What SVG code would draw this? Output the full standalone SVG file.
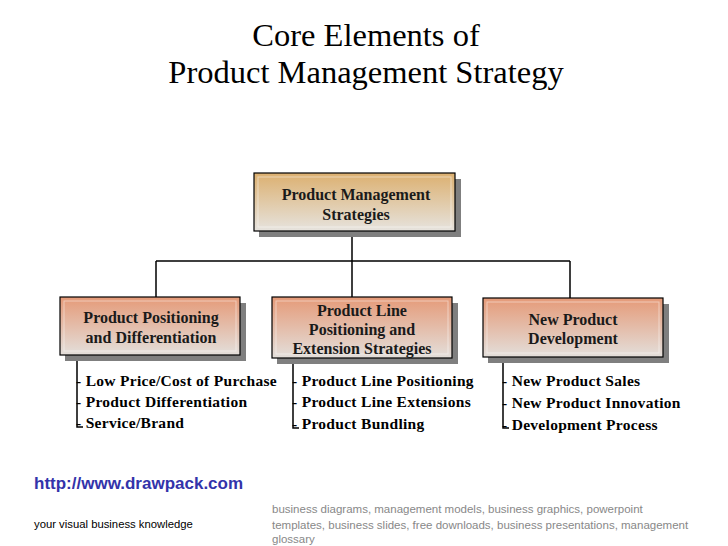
<svg xmlns="http://www.w3.org/2000/svg" width="728" height="546" viewBox="0 0 728 546">
<defs>
<linearGradient id="gTan" x1="0" y1="0" x2="0" y2="1">
<stop offset="0" stop-color="#dcb070"/>
<stop offset="1" stop-color="#e6e3de"/>
</linearGradient>
<linearGradient id="gPeach" x1="0" y1="0" x2="0" y2="1">
<stop offset="0" stop-color="#e59a78"/>
<stop offset="1" stop-color="#e3dfdb"/>
</linearGradient>
</defs>
<style>
.title{font-family:"Liberation Serif",serif;font-size:32.5px;fill:#000;text-anchor:middle}
.box{stroke:#000;stroke-width:1.2}
.inner{fill:none;stroke:#ffffff;stroke-opacity:0.45;stroke-width:1}
.shadow{fill:#7f7f7f}
.lbl{font-family:"Liberation Serif",serif;font-weight:bold;font-size:16px;fill:#1a1a1a;text-anchor:middle}
.item{font-family:"Liberation Serif",serif;font-weight:bold;font-size:15.5px;letter-spacing:0.3px;fill:#000}
.line{fill:none;stroke:#000;stroke-width:1.5}
.url{font-family:"Liberation Sans",sans-serif;font-weight:bold;font-size:17px;fill:#3333aa}
.tag{font-family:"Liberation Sans",sans-serif;font-size:11.3px;fill:#000}
.foot{font-family:"Liberation Sans",sans-serif;font-size:11.5px;fill:#888}
</style>
<rect width="728" height="546" fill="#fff"/>
<text class="title" x="366" y="46">Core Elements of</text>
<text class="title" x="366" y="83">Product Management Strategy</text>

<g id="connectors">
<path class="line" d="M352,231 V297 M156,261 H570 M156,261 V297 M570,261 V298"/>
<path class="line" d="M77,355 V427 H83"/>
<path class="line" d="M293,358 V428 H299"/>
<path class="line" d="M503,357 V428 H509"/>
</g>

<g id="node-root">
<rect class="shadow" x="259" y="179" width="202" height="58"/>
<rect class="box" x="254" y="173" width="201" height="58" fill="url(#gTan)"/>
<rect class="inner" x="258" y="177" width="193" height="50"/>
<text class="lbl" x="356" y="200">Product Management</text>
<text class="lbl" x="356" y="220">Strategies</text>
</g>

<g id="node-positioning">
<rect class="shadow" x="65" y="303" width="181" height="58"/>
<rect class="box" x="60" y="297" width="180" height="58" fill="url(#gPeach)"/>
<rect class="inner" x="64" y="301" width="172" height="50"/>
<text class="lbl" x="151" y="323">Product Positioning</text>
<text class="lbl" x="151" y="343">and Differentiation</text>
</g>

<g id="node-line">
<rect class="shadow" x="277" y="303" width="181" height="61"/>
<rect class="box" x="272" y="297" width="180" height="61" fill="url(#gPeach)"/>
<rect class="inner" x="276" y="301" width="172" height="53"/>
<text class="lbl" x="362" y="316">Product Line</text>
<text class="lbl" x="362" y="335">Positioning and</text>
<text class="lbl" x="362" y="354">Extension Strategies</text>
</g>

<g id="node-new">
<rect class="shadow" x="488" y="304" width="181" height="59"/>
<rect class="box" x="483" y="298" width="180" height="59" fill="url(#gPeach)"/>
<rect class="inner" x="487" y="302" width="172" height="51"/>
<text class="lbl" x="573" y="325">New Product</text>
<text class="lbl" x="573" y="344">Development</text>
</g>

<g id="items-positioning">
<text class="item" x="76" y="386">- Low Price/Cost of Purchase</text>
<text class="item" x="76" y="407">- Product Differentiation</text>
<text class="item" x="76" y="428">- Service/Brand</text>
</g>
<g id="items-line">
<text class="item" x="292" y="386">- Product Line Positioning</text>
<text class="item" x="292" y="407">- Product Line Extensions</text>
<text class="item" x="292" y="429">- Product Bundling</text>
</g>
<g id="items-new">
<text class="item" x="502" y="386">- New Product Sales</text>
<text class="item" x="502" y="408">- New Product Innovation</text>
<text class="item" x="502" y="430">- Development Process</text>
</g>

<g id="footer">
<text class="url" x="34" y="489">http://www.drawpack.com</text>
<text class="tag" x="34" y="528">your visual business knowledge</text>
<text class="foot" x="272" y="513">business diagrams, management models, business graphics, powerpoint</text>
<text class="foot" x="272" y="529">templates, business slides, free downloads, business presentations, management</text>
<text class="foot" x="272" y="543">glossary</text>
</g>
</svg>
